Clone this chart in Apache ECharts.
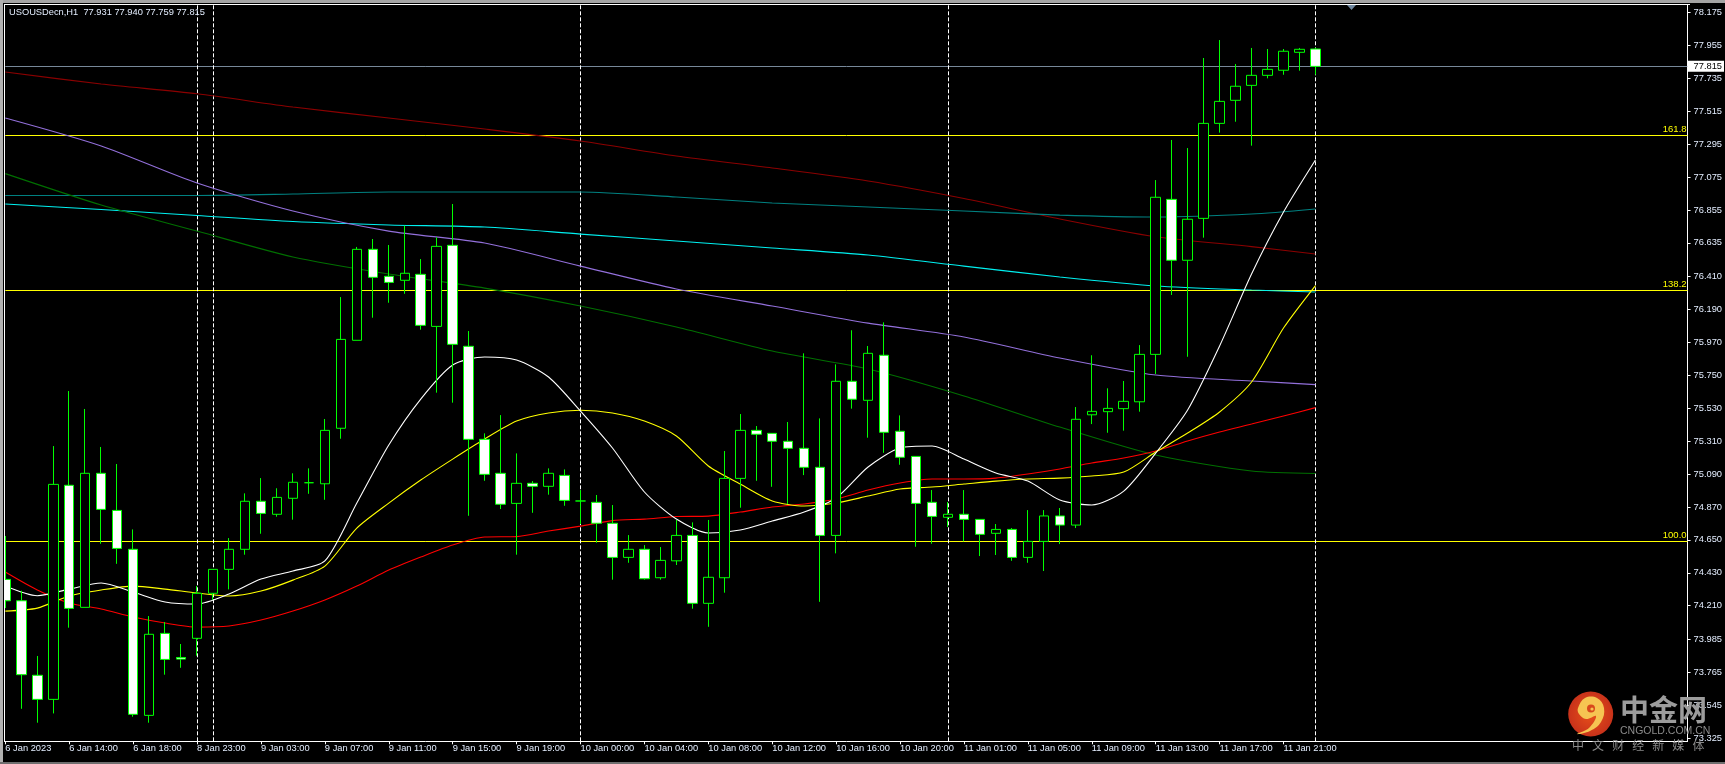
<!DOCTYPE html>
<html><head><meta charset="utf-8">
<style>html,body{margin:0;padding:0;background:#000}#c{width:1725px;height:764px}</style>
<script src="https://cdn.jsdelivr.net/npm/echarts@6/dist/echarts.min.js"></script>
</head><body><div id="c"></div>
<script>
const titleText = 'USOUSDecn,H1  77.931 77.940 77.759 77.815';
const opens = [74.386,74.243,73.745,73.584,75.015,74.199,75.095,74.847,74.587,73.477,74.025,73.864,73.992,74.293,74.453,74.587,74.908,74.821,74.928,75.032,75.025,75.396,75.984,76.592,76.412,76.385,76.425,76.077,76.619,75.944,75.322,75.095,74.894,75.028,75.008,75.081,74.910,74.901,74.761,74.533,74.587,74.397,74.510,74.680,74.226,74.397,75.061,75.382,75.362,75.309,75.262,75.135,74.680,75.710,75.583,75.884,75.376,75.208,74.901,74.801,74.821,74.787,74.694,74.720,74.533,74.640,74.810,74.749,75.486,75.507,75.527,75.573,75.890,76.926,76.519,76.799,77.434,77.588,77.688,77.755,77.789,77.909,77.931];
const highs = [74.676,74.310,73.874,75.277,75.645,75.525,75.271,75.157,74.720,74.141,74.101,73.954,74.342,74.453,74.662,74.961,75.063,74.995,75.095,75.128,75.458,76.273,76.608,76.661,76.621,76.750,76.527,76.672,76.895,76.046,75.362,75.484,75.228,75.043,75.128,75.121,74.983,74.950,74.883,74.682,74.615,74.602,74.783,74.767,74.783,75.244,75.491,75.411,75.362,75.438,75.897,75.462,75.823,76.051,75.946,76.104,75.482,75.208,74.983,74.903,74.983,74.787,74.756,74.729,74.849,74.849,74.863,75.538,75.884,75.663,75.712,75.952,77.055,77.323,77.269,77.871,77.991,77.831,77.938,77.931,77.931,77.938,77.940];
const lows = [74.194,73.521,73.428,73.490,74.063,74.199,74.624,74.490,73.468,73.428,73.749,73.795,73.876,74.248,74.319,74.551,74.691,74.805,74.785,74.958,74.918,75.326,75.984,76.135,76.235,76.295,76.055,75.634,75.567,74.811,75.045,74.856,74.551,74.831,74.952,74.878,74.756,74.631,74.384,74.497,74.384,74.384,74.482,74.190,74.069,74.297,74.865,75.045,75.005,74.890,75.083,74.236,74.560,75.527,75.333,75.232,75.152,74.604,74.624,74.736,74.640,74.542,74.549,74.510,74.497,74.442,74.622,74.729,75.424,75.366,75.380,75.507,75.759,76.287,75.874,76.670,77.372,77.445,77.285,77.735,77.759,77.786,77.759];
const closes = [74.243,73.749,73.584,75.021,74.192,75.095,74.854,74.593,73.484,74.019,73.851,73.853,74.293,74.453,74.587,74.908,74.827,74.934,75.035,75.032,75.382,75.990,76.592,76.405,76.371,76.432,76.084,76.612,75.957,75.322,75.088,74.888,75.028,75.008,75.095,74.914,74.910,74.761,74.533,74.587,74.390,74.513,74.680,74.226,74.400,75.061,75.382,75.356,75.309,75.262,75.135,74.680,75.710,75.590,75.897,75.369,75.202,74.894,74.807,74.821,74.787,74.687,74.720,74.533,74.640,74.810,74.749,75.456,75.509,75.529,75.576,75.890,76.940,76.519,76.793,77.434,77.581,77.682,77.755,77.795,77.916,77.929,77.815];

const shortBars = [0,2,4,6,8,10,12,14,16,18,20,22,24,26,28,30,32,34,36,38,40,42,44,46,48,50,52,54,56,58,60,62,64,66,68,70,72,74,76,78,80,82];
const maWhite = [74.342,74.277,74.321,74.362,74.301,74.235,74.221,74.288,74.388,74.442,74.509,74.896,75.284,75.591,75.819,75.872,75.852,75.739,75.511,75.264,74.970,74.789,74.696,74.716,74.776,74.836,74.930,75.137,75.264,75.277,75.190,75.097,75.043,74.916,74.883,74.976,75.230,75.518,75.946,76.427,76.841,77.189];
const maYellow = [74.174,74.194,74.275,74.315,74.341,74.321,74.295,74.275,74.308,74.381,74.475,74.729,74.896,75.050,75.190,75.324,75.444,75.498,75.516,75.498,75.444,75.344,75.144,75.023,74.910,74.876,74.896,74.943,74.990,75.003,75.023,75.043,75.057,75.063,75.077,75.103,75.237,75.364,75.505,75.705,76.066,76.350];
const maRed = [74.435,74.315,74.228,74.188,74.134,74.094,74.067,74.074,74.114,74.174,74.248,74.341,74.448,74.535,74.616,74.669,74.672,74.709,74.742,74.779,74.789,74.806,74.809,74.836,74.870,74.890,74.923,74.983,75.030,75.057,75.057,75.063,75.090,75.124,75.164,75.197,75.244,75.311,75.371,75.424,75.478,75.534];

const longBars = [0,6,12,18,24,30,36,42,48,54,60,66,72,78,82];
const maDarkRed = [77.777,77.697,77.632,77.543,77.470,77.396,77.316,77.216,77.136,77.049,76.932,76.795,76.676,76.610,76.561];
const maTeal = [76.952,76.952,76.952,76.962,76.975,76.975,76.975,76.942,76.902,76.875,76.848,76.821,76.808,76.828,76.862];
const maCyan = [76.895,76.858,76.818,76.778,76.755,76.741,76.694,76.648,76.601,76.554,76.480,76.407,76.347,76.320,76.307];
const maPurple = [77.470,77.283,77.035,76.848,76.714,76.634,76.480,76.327,76.213,76.099,76.006,75.866,75.752,75.712,75.688];
const maGreen = [77.098,76.888,76.714,76.541,76.427,76.333,76.213,76.073,75.912,75.792,75.612,75.404,75.217,75.110,75.094];

const fibLevels = [77.356,76.318,74.640];
const fibLabels = ['161.8','138.2','100.0'];
const lastPrice = 77.815;
const periodBars = [12,13,36,59,82];
const yTicks = [78.175,77.955,77.735,77.515,77.295,77.075,76.855,76.635,76.410,76.190,75.970,75.750,75.530,75.310,75.090,74.870,74.650,74.430,74.210,73.985,73.765,73.545,73.325];
const xLabels = ['6 Jan 2023','6 Jan 14:00','6 Jan 18:00','8 Jan 23:00','9 Jan 03:00','9 Jan 07:00','9 Jan 11:00','9 Jan 15:00','9 Jan 19:00','10 Jan 00:00','10 Jan 04:00','10 Jan 08:00','10 Jan 12:00','10 Jan 16:00','10 Jan 20:00','11 Jan 01:00','11 Jan 05:00','11 Jan 09:00','11 Jan 13:00','11 Jan 17:00','11 Jan 21:00'];
const xTickBars = xLabels.map((_, k) => k * 4);

const pairs = (b, v) => b.map((x, k) => [x, v[k]]);
const candles = opens.map((o, i) => [i, o, closes[i], lows[i], highs[i]]);
const font = 'Liberation Sans';
const textCol = '#e4eeff';
const maSeries = (name, bars, vals, color) => ({
  name, type:'line', data:pairs(bars, vals), showSymbol:false, symbol:'none', smooth:0.25,
  lineStyle:{color, width:1.1}, z:3, silent:true, animation:false
});

const chart = echarts.init(document.getElementById('c'), null, {renderer:'canvas'});
chart.setOption({
  backgroundColor:'#000', animation:false,
  title:{text:titleText, left:9, top:8, padding:0, textStyle:{color:textCol, fontFamily:font, fontSize:9.3, fontWeight:'normal'}},
  grid:{left:5.33, right:35, top:4.5, bottom:22.7, show:false},
  xAxis:{type:'value', min:0, max:105.29, splitLine:{show:false},
    axisLine:{show:true, onZero:false, lineStyle:{color:'#fff'}},
    axisTick:{show:true, length:3, lineStyle:{color:'#fff'}, customValues:xTickBars},
    axisLabel:{color:textCol, fontFamily:font, fontSize:9.3, margin:3, align:'left', customValues:xTickBars,
      formatter:v => xLabels[Math.round(v/4)] || ''}},
  yAxis:{type:'value', position:'right', min:73.3037, max:78.2285, splitLine:{show:false},
    axisLine:{show:true, onZero:false, lineStyle:{color:'#fff'}},
    axisTick:{show:true, length:3, lineStyle:{color:'#fff'}, customValues:yTicks},
    axisLabel:{color:textCol, fontFamily:font, fontSize:9.3, margin:6, customValues:yTicks, formatter:v => v.toFixed(3)}},
  series:[
    maSeries('darkred', longBars, maDarkRed, '#8b0000'),
    maSeries('teal', longBars, maTeal, '#008080'),
    maSeries('cyan', longBars, maCyan, '#00f0f0'),
    maSeries('purple', longBars, maPurple, '#9370db'),
    maSeries('green', longBars, maGreen, '#006f00'),
    maSeries('red', shortBars, maRed, '#ff0000'),
    maSeries('yellow', shortBars, maYellow, '#ffff00'),
    maSeries('white', shortBars, maWhite, '#ffffff'),
    {type:'line', name:'levels', data:[], silent:true, z:2,
     markLine:{silent:true, symbol:'none', animation:false, precision:3, z:2,
      data:[
        ...fibLevels.map((v,k)=>({yAxis:v, lineStyle:{color:'#ffff00', width:1, type:'solid'},
            label:{show:true, position:'insideEndTop', formatter:fibLabels[k], color:'#ffff00', fontFamily:font, fontSize:9.5, distance:1}})),
        {yAxis:lastPrice, lineStyle:{color:'#778899', width:1, type:'solid'},
            label:{show:true, position:'end', formatter:lastPrice.toFixed(3), color:'#000', backgroundColor:'#fff', fontFamily:font, fontSize:9.3, padding:[1,2,1,6], distance:0}},
        ...periodBars.map(b=>({xAxis:b, lineStyle:{color:'#ffffff', width:1, type:[4,2]}, label:{show:false}}))
      ]}},
    {type:'candlestick', name:'USOUSD', data:candles, dimensions:['bar','open','close','low','high'],
     encode:{x:0, y:[1,2,3,4]}, barWidth:10, z:5, clip:true, silent:true,
     itemStyle:{color:'#000', color0:'#fff', borderColor:'#00ff00', borderColor0:'#00ff00', borderColorDoji:'#00ff00', borderWidth:1}}
  ],
  graphic:[
    {type:'rect', z:50, silent:true, shape:{x:0,y:0,width:1725,height:3}, style:{fill:'#a4a4a4'}},
    {type:'rect', z:50, silent:true, shape:{x:0,y:0,width:3,height:764}, style:{fill:'#b0b0b0'}},
    {type:'rect', z:50, silent:true, shape:{x:0,y:762,width:1725,height:2}, style:{fill:'#6e6e6e'}},
    {type:'rect', z:50, silent:true, shape:{x:3,y:3,width:2,height:738}, style:{fill:'#000'}},
    {type:'rect', z:51, silent:true, shape:{x:4,y:4,width:1,height:738}, style:{fill:'#fff'}},
    {type:'rect', z:51, silent:true, shape:{x:4,y:4,width:1686,height:1}, style:{fill:'#fff'}},
    {type:'polygon', z:52, silent:true, shape:{points:[[1347,5],[1356,5],[1351.5,10]]}, style:{fill:'#7088a0'}},
    {type:'circle', z:60, silent:true, shape:{cx:1590.7,cy:714,r:22.5}, style:{fill:new echarts.graphic.RadialGradient(0.5,0.5,0.5,[{offset:0,color:'#e8501a'},{offset:1,color:'#c8321a'}])}},
    {type:'polygon', z:61, silent:true, shape:{smooth:0.4, points:[[1578,708],[1585,698],[1597,698],[1604,708],[1601,722],[1590,731],[1577,734],[1589,728],[1596,716],[1586,719],[1579,714]]}, style:{fill:'#f6c452'}},
    {type:'circle', z:62, silent:true, shape:{cx:1591,cy:708.5,r:4}, style:{fill:'#d8481c'}},
    {type:'circle', z:63, silent:true, shape:{cx:1592,cy:709,r:1.6}, style:{fill:'#f6c452'}},
    {type:'text', z:64, silent:true, left:1620, top:695, style:{text:'中金网', fill:'#9c9c9c', font:'bold 29px "Noto Sans CJK SC"'}},
    {type:'text', z:64, silent:true, left:1620, top:726, style:{text:'CNGOLD.COM.CN', fill:'#8a8a8a', font:'10.5px "Liberation Sans"'}},
    {type:'text', z:64, silent:true, left:1572, top:739, style:{text:'中   文   财   经   新   媒   体', fill:'#8a8a8a', font:'12px "Noto Sans CJK SC"'}}
  ]
});
</script></body></html>
